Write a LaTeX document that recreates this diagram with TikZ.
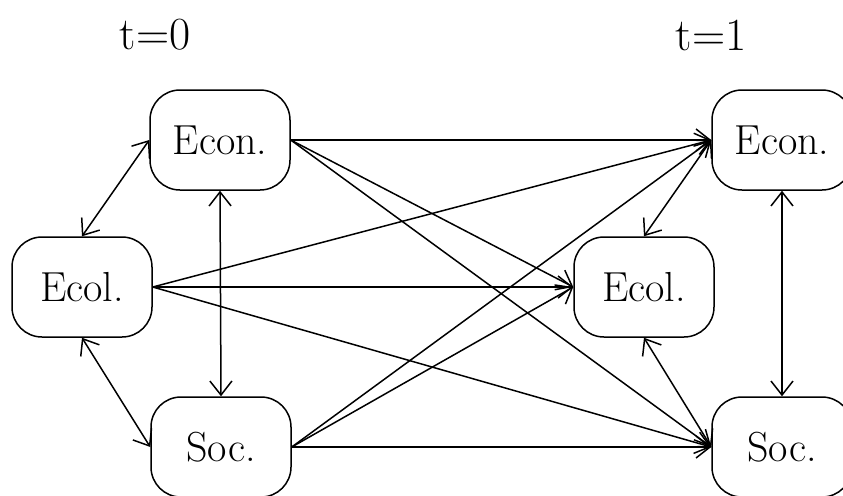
\documentclass[tikz,border=0pt]{standalone}
\usetikzlibrary{arrows.meta}
\begin{document}
\begin{tikzpicture}[x=0.5pt,y=-0.5pt,
  box/.style={draw, line width=0.75pt, rounded corners=15pt, minimum width=70pt, minimum height=50pt, inner sep=0pt, font=\fontsize{21}{25}\selectfont},
  lbl/.style={font=\fontsize{23}{27}\selectfont},
  link/.style={line width=0.75pt, -{Straight Barb[length=7pt,width=11pt,line width=0.75pt]}},
  blink/.style={line width=0.75pt, {Straight Barb[length=7pt,width=11pt,line width=0.75pt]}-{Straight Barb[length=7pt,width=11pt,line width=0.75pt]}}]
\useasboundingbox (0,0) rectangle (843,495);
\node[lbl] (t0) at (155,35) {t=0};
\node[lbl] (t1) at (711,35) {t=1};
\node[box] (econA) at (220,140) {Econ.};
\node[box] (ecolA) at (82,287) {Ecol.};
\node[box] (socA) at (221,447) {Soc.};
\node[box] (econB) at (782,140) {Econ.};
\node[box] (ecolB) at (644,287) {Ecol.};
\node[box] (socB) at (782,447) {Soc.};
\draw[blink] (econA.west) -- (ecolA.north);
\draw[blink] (ecolA.south) -- (socA.west);
\draw[blink] (econA.south) -- (socA.north);
\draw[blink] (econB.west) -- (ecolB.north);
\draw[blink] (ecolB.south) -- (socB.west);
\draw[blink] (econB.south) -- (socB.north);
\foreach \s in {econA,ecolA,socA}{
  \draw[link] (\s.east) -- (econB.west);
  \draw[link] (\s.east) -- (ecolB.west);
  \draw[link] (\s.east) -- (socB.west);
}
\end{tikzpicture}
\end{document}
